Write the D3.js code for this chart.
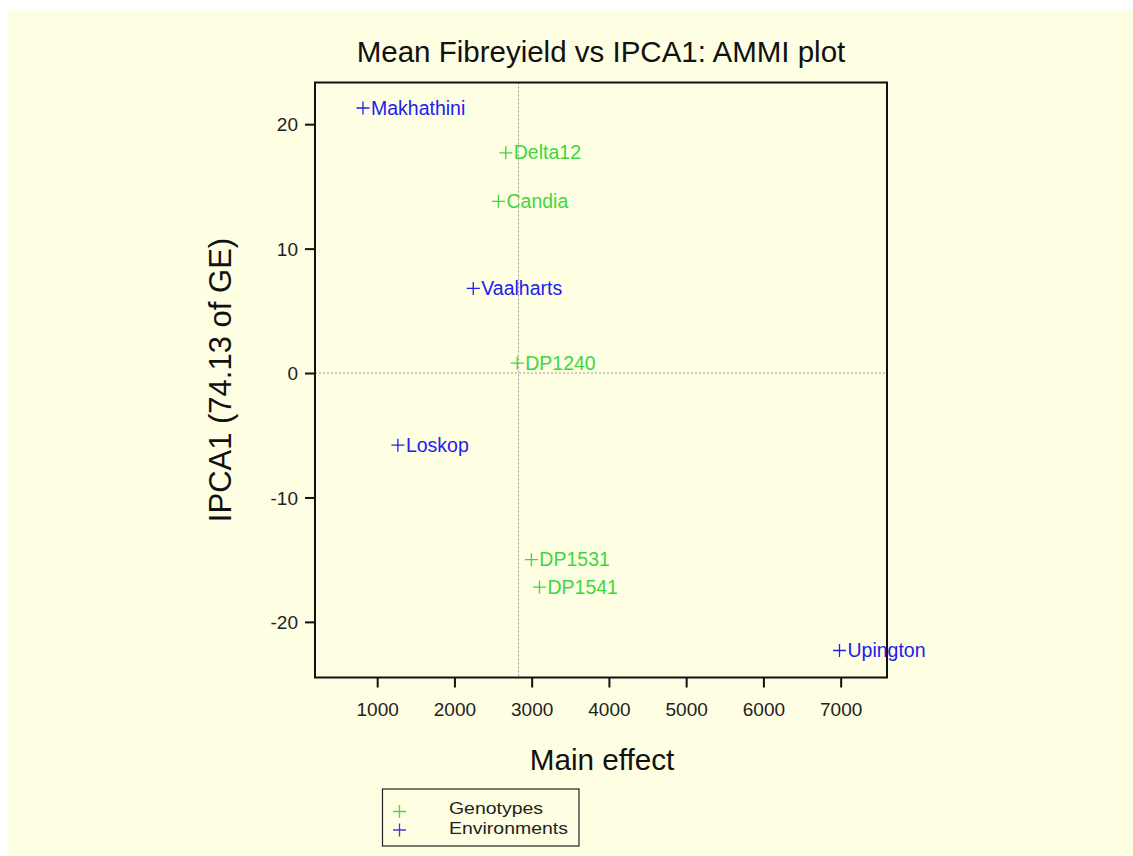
<!DOCTYPE html>
<html>
<head>
<meta charset="utf-8">
<script src="https://cdn.jsdelivr.net/npm/d3@7/dist/d3.min.js"></script>
<style>
  html, body { margin: 0; padding: 0; background: #ffffff; }
  svg { display: block; }
  text { font-family: "Liberation Sans", Arial, sans-serif; }
</style>
</head>
<body>
<svg id="chart" width="1133" height="856"></svg>
<script>
// ---- data ----
const genotypeNames = ["Delta12", "Candia", "DP1240", "DP1531", "DP1541"];
const genotypeMain  = [2665, 2570, 2813, 2996, 3101];
const genotypeIPCA1 = [17.7, 13.8, 0.8, -15.0, -17.2];

const envNames = ["Makhathini", "Vaalharts", "Loskop", "Upington"];
const envMain  = [816, 2244, 1268, 6985];
const envIPCA1 = [21.3, 6.8, -5.8, -22.3];

const xTicks = [1000, 2000, 3000, 4000, 5000, 6000, 7000];
const yTicks = [-20, -10, 0, 10, 20];
const grandMean = 2830;

const titleText = "Mean Fibreyield vs IPCA1: AMMI plot";
const xLabel = "Main effect";
const yLabel = "IPCA1 (74.13 of GE)";
const legendLabels = ["Genotypes", "Environments"];

// ---- layout ----
const W = 1133, H = 856;
const plot = { left: 315, right: 887, top: 82.5, bottom: 677.5 };
const green = "#3fd63f", blue = "#2020f0";

const svg = d3.select("#chart");
svg.append("rect").attr("x", 8).attr("y", 10).attr("width", W - 8).attr("height", H - 10)
  .attr("fill", "#fefee3");

const x = d3.scaleLinear().domain([195, 7600]).range([plot.left, plot.right]);
const y = d3.scaleLinear().domain([-24.47, 23.35]).range([plot.bottom, plot.top]);

// reference lines
svg.append("line").attr("x1", x(grandMean)).attr("x2", x(grandMean))
  .attr("y1", plot.top).attr("y2", plot.bottom)
  .attr("stroke", "#999").attr("stroke-width", 1).attr("stroke-dasharray", "2,2");
svg.append("line").attr("x1", plot.left).attr("x2", plot.right)
  .attr("y1", y(0)).attr("y2", y(0))
  .attr("stroke", "#999").attr("stroke-width", 1).attr("stroke-dasharray", "2,2");

// frame
svg.append("rect").attr("x", plot.left).attr("y", plot.top)
  .attr("width", plot.right - plot.left).attr("height", plot.bottom - plot.top)
  .attr("fill", "none").attr("stroke", "#111").attr("stroke-width", 2);

// axes
const fmt = d => String(d);
const xAxis = d3.axisBottom(x).tickValues(xTicks).tickSize(10).tickPadding(11).tickFormat(fmt);
const gx = svg.append("g").attr("transform", `translate(0,${plot.bottom})`).call(xAxis);
const yAxis = d3.axisLeft(y).tickValues(yTicks).tickSize(10).tickPadding(7).tickFormat(fmt);
const gy = svg.append("g").attr("transform", `translate(${plot.left},0)`).call(yAxis);
[gx, gy].forEach(g => {
  g.select(".domain").remove();
  g.selectAll(".tick line").attr("stroke", "#111").attr("stroke-width", 2);
  g.selectAll(".tick text").attr("fill", "#222").style("font-size", "19px")
    .style("font-family", "'Liberation Sans', Arial, sans-serif");
});
gx.selectAll(".tick text").attr("dy", "0.9em");
gy.selectAll(".tick text").attr("dy", "0.35em");

// titles
svg.append("text").attr("x", 601).attr("y", 62).attr("text-anchor", "middle")
  .style("font-size", "29.5px").attr("fill", "#111").text(titleText);
svg.append("text").attr("x", 602).attr("y", 770).attr("text-anchor", "middle")
  .style("font-size", "29.7px").attr("fill", "#111").text(xLabel);
svg.append("text").attr("transform", `translate(231,${(plot.top + plot.bottom) / 2}) rotate(-90)`)
  .attr("text-anchor", "middle").style("font-size", "31px").attr("fill", "#111").text(yLabel);

// points
function plus(g, cx, cy, r, color, w) {
  g.append("path").attr("d", `M${cx - r},${cy}H${cx + r}M${cx},${cy - r}V${cy + r}`)
    .attr("stroke", color).attr("stroke-width", w).attr("fill", "none");
}
const pts = svg.append("g");
const genotypes = genotypeNames.map((n, i) => ({ name: n, mx: genotypeMain[i], py: genotypeIPCA1[i], c: green }));
const envs = envNames.map((n, i) => ({ name: n, mx: envMain[i], py: envIPCA1[i], c: blue }));
genotypes.concat(envs).forEach(d => {
  const cx = x(d.mx), cy = y(d.py);
  plus(pts, cx, cy, 6.5, d.c, 1.3);
  pts.append("text").attr("x", cx + 8).attr("y", cy + 6.5)
    .style("font-size", "19.5px").attr("fill", d.c).text(d.name);
});

// legend
const lg = svg.append("g");
lg.append("rect").attr("x", 382.5).attr("y", 789).attr("width", 196.5).attr("height", 57)
  .attr("fill", "none").attr("stroke", "#222").attr("stroke-width", 1.2);
const legendColors = ["#4ad84a", "#3a3aee"];
const legendWidths = [94, 119];
[[811.5, 814.3], [830, 834]].forEach(([my, ty], i) => {
  plus(lg, 399.5, my, 6.5, legendColors[i], 1.3);
  lg.append("text").attr("x", 449).attr("y", ty).style("font-size", "17px")
    .attr("textLength", legendWidths[i]).attr("lengthAdjust", "spacingAndGlyphs")
    .attr("fill", "#222").text(legendLabels[i]);
});
</script>
</body>
</html>
